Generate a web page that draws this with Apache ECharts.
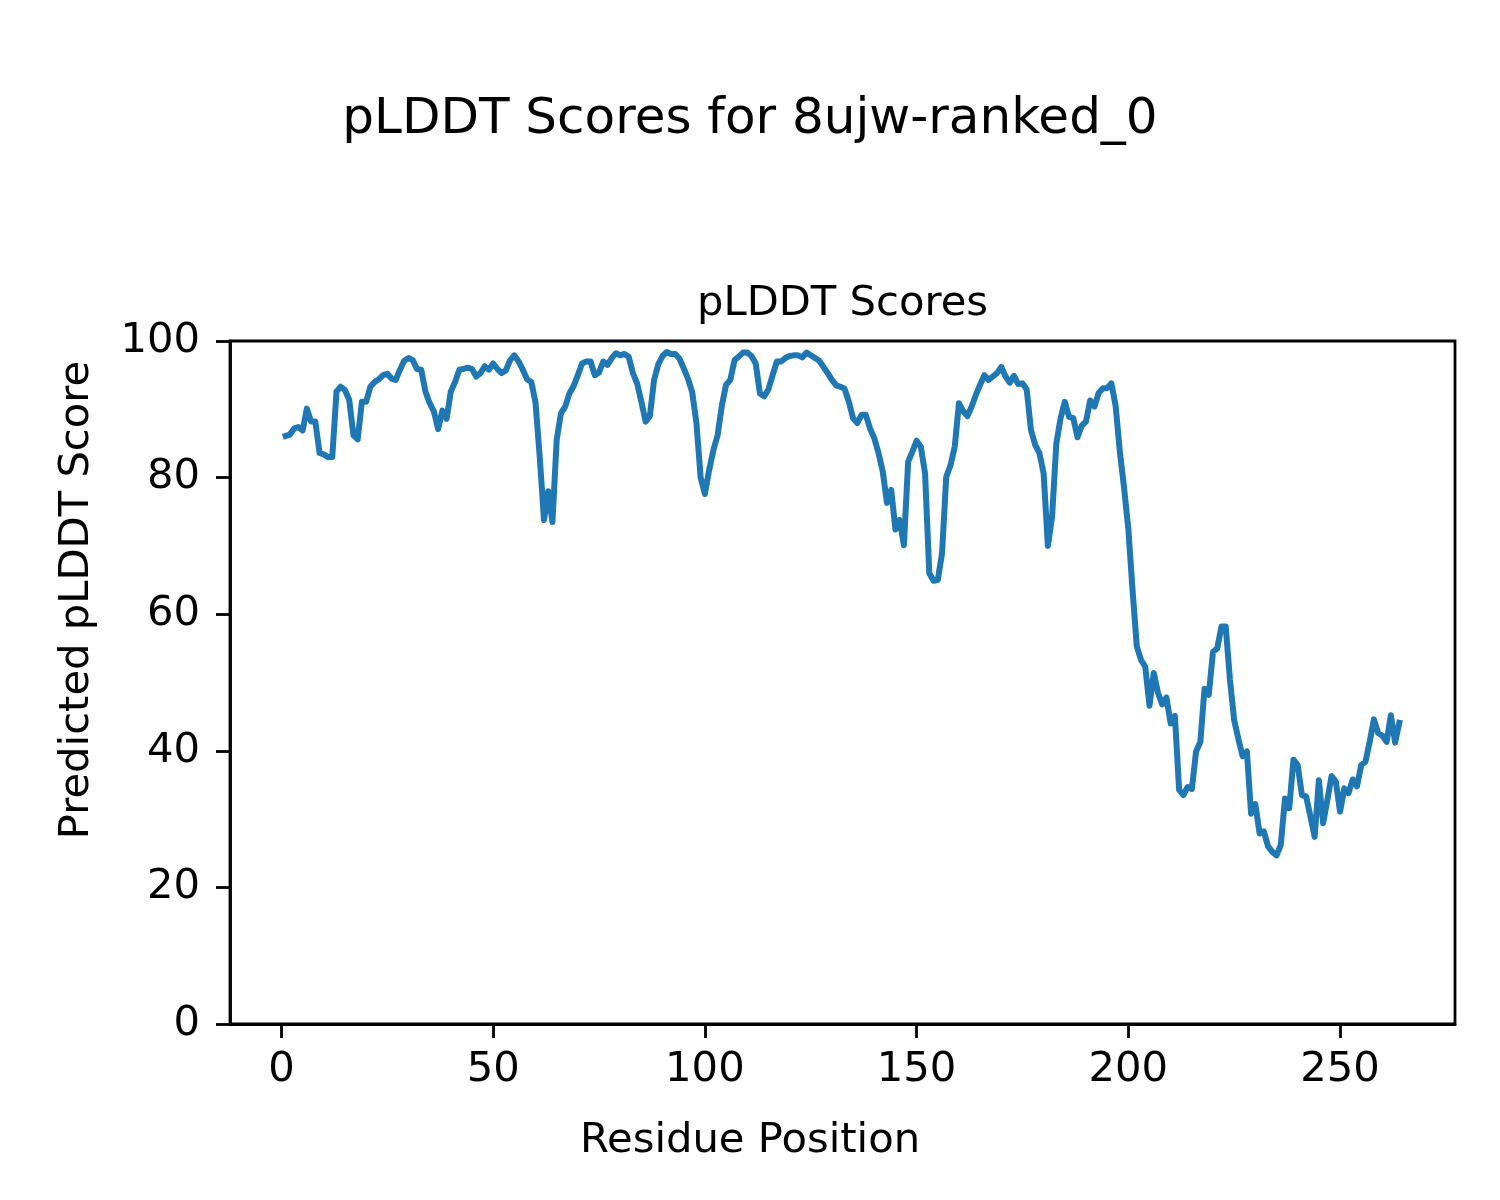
<!DOCTYPE html>
<html>
<head>
<meta charset="utf-8">
<script src="https://cdn.jsdelivr.net/npm/echarts@6/dist/echarts.min.js"></script>
<style>
html,body{margin:0;padding:0;background:#fff;}
#chart{width:1500px;height:1200px;}
</style>
</head>
<body>
<div id="chart"></div>
<script>
const suptitleText = 'pLDDT Scores for 8ujw-ranked_0';
const axesTitleText = 'pLDDT Scores';
const xLabelText = 'Residue Position';
const yLabelText = 'Predicted pLDDT Score';
const xTicks = [0, 50, 100, 150, 200, 250];
const yTicks = [0, 20, 40, 60, 80, 100];

// pLDDT per residue, residues 1..264
const plddt = [
  86.1, 86.3, 87.2, 87.4, 86.9, 90.1, 88.2, 88.2, 83.6,
  83.4, 83.0, 83.0, 92.6, 93.3, 92.8, 91.4, 86.2, 85.6, 91.1,
  91.1, 93.3, 94.0, 94.4, 95.0, 95.2, 94.5, 94.3, 95.8, 97.1,
  97.5, 97.2, 95.9, 95.8, 92.6, 90.9, 89.7, 87.1, 89.8, 88.6,
  92.6, 94.0, 95.8, 95.9, 96.1, 95.9, 94.8, 95.3, 96.3, 95.8,
  96.7, 95.9, 95.3, 95.7, 97.2, 97.9, 97.0, 95.8, 94.4, 94.0,
  91.0, 83.0, 73.8, 78.0, 73.5, 85.5, 89.4, 90.4, 92.3, 93.4,
  95.0, 96.7, 97.0, 97.0, 95.0, 95.4, 97.0, 96.5, 97.5, 98.2,
  97.9, 98.1, 97.7, 95.3, 93.8, 91.1, 88.2, 89.0, 94.3, 96.6,
  97.8, 98.4, 98.1, 98.1, 97.4, 96.0, 94.5, 92.5, 88.0, 80.0,
  77.6, 81.1, 84.0, 86.2, 90.5, 93.6, 94.3, 97.2, 97.7, 98.3,
  98.3, 97.8, 96.7, 92.3, 91.9, 92.9, 95.0, 97.0, 97.0, 97.5,
  97.8, 97.9, 97.9, 97.6, 98.3, 97.9, 97.5, 97.1, 96.2, 95.3,
  94.3, 93.5, 93.3, 93.0, 91.1, 88.7, 88.0, 89.2, 89.2, 87.2,
  85.8, 83.6, 80.9, 76.3, 78.2, 72.4, 73.8, 70.1, 82.3, 83.8,
  85.4, 84.5, 80.6, 66.0, 64.9, 65.0, 68.9, 80.1, 81.8, 84.5,
  90.9, 89.7, 89.0, 90.4, 92.1, 93.6, 95.0, 94.3, 94.8, 95.3,
  96.2, 94.8, 93.9, 94.9, 93.7, 93.8, 92.9, 87.0, 84.8, 83.6,
  80.6, 70.0, 74.3, 85.0, 88.7, 91.1, 88.9, 88.7, 85.9, 87.6,
  88.2, 91.3, 90.4, 92.4, 93.1, 93.1, 93.8, 90.5, 83.8, 78.5,
  72.5, 63.5, 55.3, 53.3, 52.3, 46.6, 51.4, 48.5, 46.8, 47.8,
  44.0, 45.1, 34.3, 33.5, 34.7, 34.4, 39.9, 41.3, 49.1, 48.2,
  54.5, 55.0, 58.2, 58.2, 50.4, 44.5, 41.7, 39.2, 39.9, 30.8,
  32.2, 27.9, 28.2, 26.0, 25.2, 24.7, 26.2, 33.0, 31.6, 38.7,
  37.9, 33.5, 33.3, 30.4, 27.4, 35.7, 29.4, 32.8, 36.3, 35.5,
  31.1, 34.5, 33.8, 35.8, 34.8, 37.9, 38.4, 41.3, 44.6, 42.6,
  42.2, 41.3, 45.2, 41.2, 44.1
];

// residue positions 1..N
const residues = plddt.map((v, i) => i + 1);
const seriesData = residues.map((r, i) => [r, plddt[i]]);

const FONT = 'DejaVu Sans';
const TICK_FS = 41.7;

const chart = echarts.init(document.getElementById('chart'), null, {renderer: 'canvas'});
const first = residues[0];
const last = residues[residues.length - 1];
const span = last - first;
const xMin = first - 0.05 * span;
const xMax = last + 0.05 * span;

chart.setOption({
  animation: false,
  backgroundColor: '#ffffff',
  grid: {
    left: 230, top: 341, width: 1225, height: 683,
    show: true, borderColor: '#000', borderWidth: 2.8, backgroundColor: 'transparent'
  },
  xAxis: {
    type: 'value',
    min: xMin, max: xMax,
    axisLine: {show: true, onZero: false, lineStyle: {color: '#000', width: 2.8}},
    axisTick: {show: true, length: 14, lineStyle: {color: '#000', width: 2.8}, customValues: xTicks},
    axisLabel: {show: true, customValues: xTicks, color: '#000', fontSize: TICK_FS, fontFamily: FONT, margin: 25},
    splitLine: {show: false}
  },
  yAxis: {
    type: 'value',
    min: 0, max: 100, interval: 20,
    axisLine: {show: true, onZero: false, lineStyle: {color: '#000', width: 2.8}},
    axisTick: {show: true, length: 14, lineStyle: {color: '#000', width: 2.8}},
    axisLabel: {show: true, color: '#000', fontSize: TICK_FS, fontFamily: FONT, margin: 30},
    splitLine: {show: false}
  },
  graphic: [
    {type: 'text', x: 750, y: 120, style: {text: suptitleText, font: '50px "DejaVu Sans"', fill: '#000', textAlign: 'center', textVerticalAlign: 'middle'}},
    {type: 'text', x: 842.5, y: 304, style: {text: axesTitleText, font: '41.7px "DejaVu Sans"', fill: '#000', textAlign: 'center', textVerticalAlign: 'middle'}},
    {type: 'text', x: 750, y: 1141, style: {text: xLabelText, font: '41.7px "DejaVu Sans"', fill: '#000', textAlign: 'center', textVerticalAlign: 'middle'}},
    {type: 'text', x: 77, y: 600, rotation: Math.PI / 2, style: {text: yLabelText, font: '41.7px "DejaVu Sans"', fill: '#000', textAlign: 'center', textVerticalAlign: 'middle'}}
  ],
  series: [{
    type: 'line',
    data: seriesData,
    showSymbol: false,
    symbol: 'none',
    lineStyle: {color: '#1f77b4', width: 6, cap: 'square', join: 'round'},
    z: 3
  }]
});
</script>
</body>
</html>
